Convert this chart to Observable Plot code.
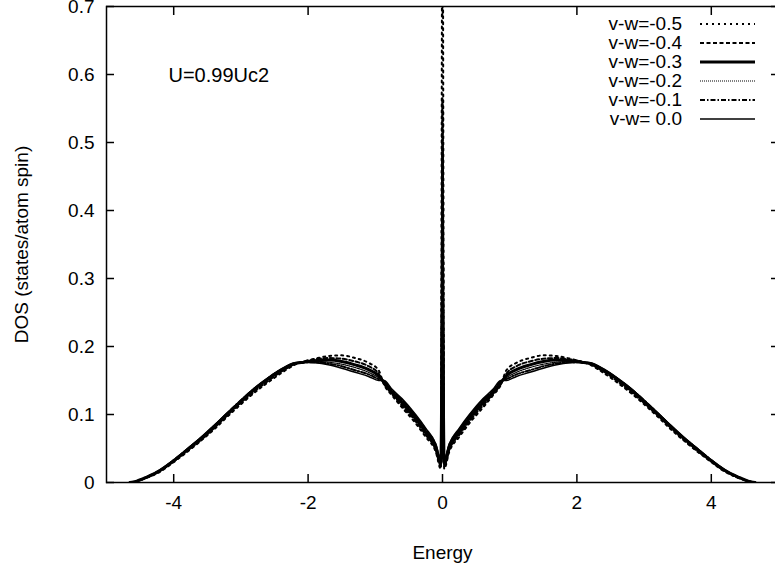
<!DOCTYPE html>
<html><head><meta charset="utf-8">
<script src="https://cdn.jsdelivr.net/npm/d3@7"></script>
<script src="https://cdn.jsdelivr.net/npm/@observablehq/plot@0.6"></script>
<style>
html,body{margin:0;padding:0;background:#fff;overflow:hidden;}
#wrap{position:relative;width:775px;height:565px;overflow:hidden;}
#legend{position:absolute;left:560px;top:14px;font:19px "Liberation Sans",Arial,sans-serif;color:#000;}
.row{display:flex;align-items:center;height:19px;}
.row span{display:inline-block;width:122px;text-align:right;white-space:pre;}
.row svg{margin-left:18px;display:block;}
</style></head><body><div id="wrap"></div>
<script>
// Energy grid for E >= 0 (the DOS is symmetric about E = 0)
const energiesHalf = [0, 0.025, 0.1, 0.25, 0.4, 0.6, 0.75, 0.87, 0.95, 1.1, 1.3, 1.5, 1.7, 1.9, 2.06, 2.2, 2.4, 2.6, 2.8, 3.0, 3.2, 3.4, 3.6, 3.8, 4.0, 4.2, 4.4, 4.55, 4.65];
const seriesNames = ["v-w=-0.5", "v-w=-0.4", "v-w=-0.3", "v-w=-0.2", "v-w=-0.1", "v-w= 0.0"];
const dosVW05 = [0.95, 0.020, 0.045, 0.067, 0.087, 0.110, 0.128, 0.144, 0.165, 0.176, 0.183, 0.187, 0.186, 0.182, 0.178, 0.173, 0.161, 0.147, 0.132, 0.115, 0.097, 0.078, 0.061, 0.045, 0.030, 0.016, 0.007, 0.002, 0];
const dosVW04 = [0.565, 0.024, 0.048, 0.070, 0.090, 0.113, 0.130, 0.145, 0.160, 0.171, 0.178, 0.182, 0.183, 0.181, 0.178, 0.174, 0.163, 0.149, 0.134, 0.117, 0.099, 0.080, 0.062, 0.046, 0.031, 0.017, 0.007, 0.002, 0];
const dosVW03 = [0.23, 0.028, 0.051, 0.074, 0.094, 0.117, 0.132, 0.147, 0.157, 0.166, 0.173, 0.178, 0.180, 0.179, 0.177, 0.175, 0.165, 0.152, 0.137, 0.119, 0.101, 0.082, 0.064, 0.048, 0.032, 0.018, 0.008, 0.002, 0];
const dosVW02 = [0.32, 0.030, 0.053, 0.076, 0.096, 0.119, 0.134, 0.148, 0.154, 0.162, 0.169, 0.174, 0.177, 0.178, 0.177, 0.175, 0.166, 0.153, 0.138, 0.120, 0.102, 0.083, 0.065, 0.048, 0.032, 0.018, 0.008, 0.002, 0];
const dosVW01 = [0.42, 0.032, 0.055, 0.078, 0.098, 0.121, 0.135, 0.149, 0.152, 0.159, 0.165, 0.171, 0.175, 0.177, 0.177, 0.175, 0.166, 0.153, 0.138, 0.121, 0.102, 0.083, 0.065, 0.049, 0.033, 0.018, 0.008, 0.002, 0];
const dosVW00 = [0.565, 0.034, 0.057, 0.080, 0.100, 0.123, 0.137, 0.150, 0.150, 0.156, 0.162, 0.168, 0.173, 0.176, 0.177, 0.176, 0.167, 0.154, 0.139, 0.121, 0.103, 0.084, 0.066, 0.049, 0.033, 0.019, 0.008, 0.002, 0];
const xTicks = [-4, -2, 0, 2, 4];
const yTicks = [0, 0.1, 0.2, 0.3, 0.4, 0.5, 0.6, 0.7];
const annotation = "U=0.99Uc2";
const xLabel = "Energy";
const yLabel = "DOS (states/atom spin)";

// styles (kept apart from data)
const dashes = ["2,4", "4,2.5", null, "1,1", "5,2,1.5,2", null];
const widths = [2, 2, 3, 1.2, 2, 1.5];

const allSeries = [dosVW05, dosVW04, dosVW03, dosVW02, dosVW01, dosVW00];
const table = [];
allSeries.forEach((vals, s) => {
  for (let i = energiesHalf.length - 1; i >= 1; i--) table.push({series: seriesNames[s], energy: -energiesHalf[i], dos: vals[i]});
  for (let i = 0; i < energiesHalf.length; i++) table.push({series: seriesNames[s], energy: energiesHalf[i], dos: vals[i]});
});

const font = '"Liberation Sans", Arial, sans-serif';
const lineMarks = seriesNames.map((name, s) => Plot.line(table.filter(d => d.series === name), {
  x: "energy", y: "dos", stroke: "black", strokeWidth: widths[s], curve: "monotone-x",
  strokeDasharray: dashes[s] || undefined, clip: true
}));

const chart = Plot.plot({
  width: 785, height: 565,
  marginLeft: 106, marginRight: 7, marginTop: 6, marginBottom: 83,
  style: {fontFamily: font, fontSize: "19px", color: "black", background: "white", maxWidth: "none", overflow: "hidden"},
  x: {domain: [-5, 5]},
  y: {domain: [0, 0.7]},
  marks: [
    ...lineMarks,
    Plot.frame({stroke: "black", strokeWidth: 1.5}),
    Plot.axisX({anchor: "bottom", ticks: xTicks, tickSize: -8, tickPadding: 21, strokeWidth: 1.5, tickFormat: d => String(d), label: xLabel, labelAnchor: "center", labelArrow: "none", labelOffset: 76}),
    Plot.axisX({anchor: "top", ticks: xTicks, tickSize: -8, strokeWidth: 1.5, tickFormat: () => "", label: null}),
    Plot.axisY({anchor: "left", ticks: yTicks, tickSize: -8, tickPadding: 20, strokeWidth: 1.5, tickFormat: d => d === 0 ? "0" : d.toFixed(1), label: yLabel, labelAnchor: "center", labelArrow: "none", labelOffset: 92}),
    Plot.axisY({anchor: "right", ticks: yTicks, tickSize: -8, strokeWidth: 1.5, tickFormat: () => "", label: null}),
    Plot.text([annotation], {frameAnchor: "top-left", dx: 62, dy: 69, textAnchor: "start", lineAnchor: "middle", fontSize: 20, fill: "black"})
  ]
});
const wrap = document.getElementById("wrap");
wrap.appendChild(chart);

// legend
const legend = document.createElement("div");
legend.id = "legend";
seriesNames.forEach((name, s) => {
  const row = document.createElement("div");
  row.className = "row";
  const span = document.createElement("span");
  span.textContent = name;
  row.appendChild(span);
  const ns = "http://www.w3.org/2000/svg";
  const svg = document.createElementNS(ns, "svg");
  svg.setAttribute("width", "56"); svg.setAttribute("height", "10");
  const ln = document.createElementNS(ns, "line");
  ln.setAttribute("x1", "0"); ln.setAttribute("x2", "55"); ln.setAttribute("y1", "5"); ln.setAttribute("y2", "5");
  ln.setAttribute("stroke", "black"); ln.setAttribute("stroke-width", widths[s]);
  if (dashes[s]) ln.setAttribute("stroke-dasharray", dashes[s]);
  svg.appendChild(ln);
  row.appendChild(svg);
  legend.appendChild(row);
});
wrap.appendChild(legend);
</script></body></html>
